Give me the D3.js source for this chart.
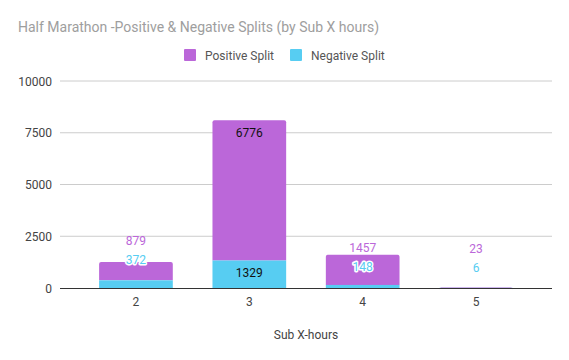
<!DOCTYPE html>
<meta charset="utf-8">
<style>
body { margin: 0; background: #fff; }
text { font-family: Roboto, "Noto Sans", sans-serif; }
</style>
<body>
<script src="https://d3js.org/d3.v7.min.js"></script>
<script>

// data
var categories = ["2", "3", "4", "5"];
var positiveSplit = [879, 6776, 1457, 23];
var negativeSplit = [372, 1329, 148, 6];
var yTicks = [0, 2500, 5000, 7500, 10000];
var seriesNames = ["Positive Split", "Negative Split"];
var seriesColors = ["#bb67d9", "#57cdf2"];

var width = 569, height = 360;
var plot = {left: 60, right: 552, top: 81, bottom: 288};

var svg = d3.select("body").append("svg")
    .attr("width", width)
    .attr("height", height);

var x = d3.scaleBand()
    .domain(categories)
    .range([plot.left, plot.right])
    .paddingInner(0.35)
    .paddingOuter(0.345);

var y = d3.scaleLinear()
    .domain([0, 10000])
    .range([plot.bottom, plot.top]);

// gridlines
svg.append("g")
    .selectAll("line")
    .data(yTicks.slice(1))
    .join("line")
    .attr("x1", plot.left).attr("x2", plot.right)
    .attr("y1", d => y(d)).attr("y2", d => y(d))
    .attr("stroke", "#cccccc")
    .attr("stroke-width", 1);

// y labels
svg.append("g")
    .selectAll("text")
    .data(yTicks)
    .join("text")
    .attr("x", plot.left - 8)
    .attr("y", d => y(d) + 4.5)
    .attr("text-anchor", "end")
    .attr("font-size", 12)
    .attr("fill", "#444")
    .text(d => d);

// stacked bars
var rows = categories.map(function(c, i) {
  return {cat: c, neg: negativeSplit[i], pos: positiveSplit[i]};
});

var bars = svg.append("g");
rows.forEach(function(d) {
  var bx = x(d.cat), bw = x.bandwidth();
  // positive on top, slightly rounded top corners
  var top = y(d.neg + d.pos), mid = y(d.neg), r = 2;
  bars.append("path")
      .attr("d", "M" + bx + "," + mid +
        "V" + (top + r) + "Q" + bx + "," + top + " " + (bx + r) + "," + top +
        "H" + (bx + bw - r) + "Q" + (bx + bw) + "," + top + " " + (bx + bw) + "," + (top + r) +
        "V" + mid + "Z")
      .attr("fill", seriesColors[0]);
  bars.append("rect")
      .attr("x", bx).attr("width", bw)
      .attr("y", mid).attr("height", y(0) - mid)
      .attr("fill", seriesColors[1]);
});

// zero line
svg.append("line")
    .attr("x1", plot.left).attr("x2", plot.right)
    .attr("y1", y(0) + 0.5).attr("y2", y(0) + 0.5)
    .attr("stroke", "#333").attr("stroke-width", 1);

// data labels
var labels = svg.append("g").attr("font-size", 12).attr("text-anchor", "middle");
rows.forEach(function(d) {
  var cx = x(d.cat) + x.bandwidth() / 2;
  var negH = y(0) - y(d.neg), posH = y(d.neg) - y(d.neg + d.pos);
  if (negH >= 20 && posH >= 20) {
    labels.append("text").attr("x", cx).attr("y", y(d.neg + d.pos) + 17)
        .attr("fill", "#111").text(d.pos);
    labels.append("text").attr("x", cx).attr("y", y(d.neg) + 17)
        .attr("fill", "#111").text(d.neg);
  } else {
    var negY = (y(0) + y(d.neg)) / 2 - 20;
    if (d.cat === "2") negY = y(d.neg + d.pos) - 2.5;
    var posY = negY - 19;
    labels.append("text").attr("x", cx).attr("y", posY + 4.5)
        .attr("fill", seriesColors[0]).text(d.pos);
    labels.append("text").attr("x", cx).attr("y", negY + 4.5)
        .attr("fill", seriesColors[1])
        .attr("stroke", "#fff").attr("stroke-width", 3)
        .attr("paint-order", "stroke").attr("stroke-linejoin", "round")
        .text(d.neg);
  }
});

// x labels
svg.append("g")
    .selectAll("text")
    .data(categories)
    .join("text")
    .attr("x", d => x(d) + x.bandwidth() / 2)
    .attr("y", 306)
    .attr("text-anchor", "middle")
    .attr("font-size", 12)
    .attr("fill", "#444")
    .text(d => d);

// axis title
svg.append("text")
    .attr("x", (plot.left + plot.right) / 2)
    .attr("y", 339)
    .attr("text-anchor", "middle")
    .attr("font-size", 12)
    .attr("fill", "#444")
    .text("Sub X-hours");

// title
svg.append("text")
    .attr("x", 18)
    .attr("y", 31.5)
    .attr("font-size", 14)
    .attr("fill", "#9e9e9e")
    .text("Half Marathon -Positive & Negative Splits (by Sub X hours)");

// legend
var legendX = [184, 290];
var legend = svg.append("g");
seriesNames.forEach(function(name, i) {
  legend.append("rect")
      .attr("x", legendX[i]).attr("y", 49)
      .attr("width", 12).attr("height", 12)
      .attr("rx", 1)
      .attr("fill", seriesColors[i]);
  legend.append("text")
      .attr("x", legendX[i] + 21).attr("y", 59.5)
      .attr("font-size", 12)
      .attr("fill", "#555")
      .text(name);
});

</script>
</body>
